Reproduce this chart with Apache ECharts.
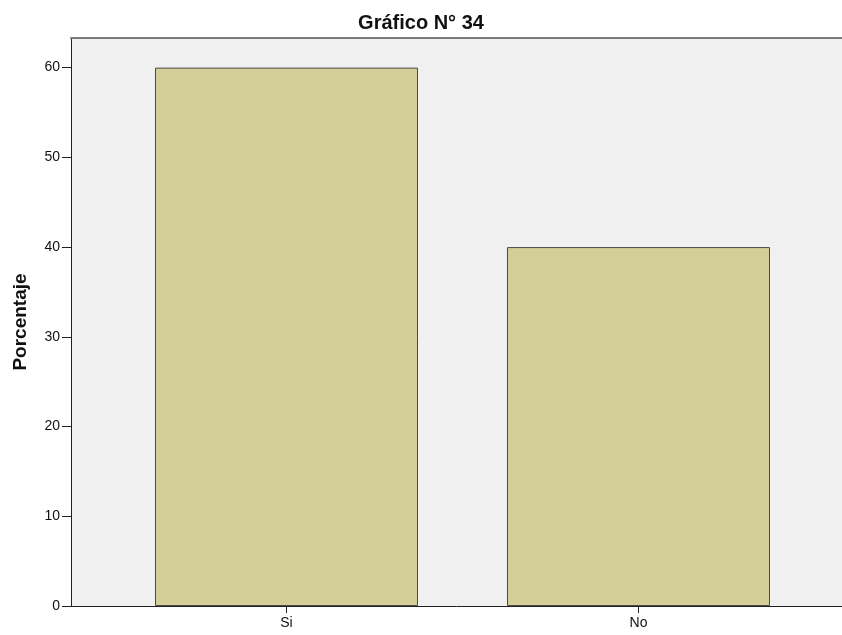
<!DOCTYPE html>
<html><head><meta charset="utf-8">
<script src="https://cdn.jsdelivr.net/npm/echarts@6/dist/echarts.min.js"></script>
<style>html,body{margin:0;padding:0;background:#fff}#c{width:842px;height:635px}</style>
</head><body><div id="c"></div>
<script>
const titleText = 'Gráfico N° 34';
const categories = ['Si', 'No'];
const values = [60, 40];
const yName = 'Porcentaje';
const yTicks = [0, 10, 20, 30, 40, 50, 60];
const yMax = 63.3;

const chart = echarts.init(document.getElementById('c'), null, {renderer: 'canvas'});
const font = "'Liberation Sans', Arial, sans-serif";
chart.setOption({
  animation: false,
  backgroundColor: '#ffffff',
  title: {text: titleText, left: 'center', top: 8,
    textStyle: {fontFamily: font, fontSize: 20, fontWeight: 'bold', color: '#111'}},
  grid: [
    {left: 71, right: 0, top: 38, bottom: 29, show: true, backgroundColor: '#f0f0f0', borderWidth: 0,
      containLabel: false, outerBoundsMode: 'none'},
    {left: 110.5, width: 704, top: 38, bottom: 29, containLabel: false, outerBoundsMode: 'none'}
  ],
  xAxis: [
    {type: 'category', gridIndex: 0, data: ['x'], axisLine: {show: true, lineStyle: {color: '#222', width: 1}},
      axisTick: {show: false}, axisLabel: {show: false}},
    {type: 'category', gridIndex: 1, data: categories, axisLine: {show: false},
      axisTick: {show: true, alignWithLabel: true, length: 7, lineStyle: {color: '#222'}},
      axisLabel: {fontFamily: font, fontSize: 14, color: '#111', margin: 10}},
    {type: 'category', gridIndex: 0, position: 'top', data: ['x'],
      axisLine: {show: true, lineStyle: {color: '#7a7a7a', width: 2}}, axisTick: {show: false}, axisLabel: {show: false}}
  ],
  yAxis: [
    {type: 'value', gridIndex: 0, min: 0, max: yMax,
      name: yName, nameLocation: 'middle', nameGap: 41, nameRotate: 90,
      nameTextStyle: {fontFamily: font, fontSize: 19, fontWeight: 'bold', color: '#111'},
      axisLine: {show: true, lineStyle: {color: '#222', width: 1}},
      axisTick: {show: true, length: 9, lineStyle: {color: '#222'}, customValues: yTicks},
      axisLabel: {fontFamily: font, fontSize: 14, color: '#111', margin: 11, customValues: yTicks},
      splitLine: {show: false}},
    {type: 'value', gridIndex: 1, min: 0, max: yMax, show: false, splitLine: {show: false}}
  ],
  series: [{
    type: 'bar', xAxisIndex: 1, yAxisIndex: 1, data: values, barWidth: 263,
    itemStyle: {color: '#d3ce97', borderColor: '#4a4a4a', borderWidth: 1}
  }]
});
</script></body></html>
